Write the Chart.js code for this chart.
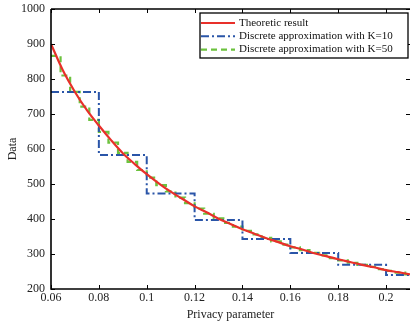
<!DOCTYPE html>
<html><head><meta charset="utf-8">
<script src="https://cdn.jsdelivr.net/npm/chart.js@4/dist/chart.umd.min.js"></script>
<style>html,body{margin:0;padding:0;background:#fff;}#wrap{width:410px;height:322px;position:relative;}</style>
</head><body><div id="wrap"><canvas id="c" width="410" height="322"></canvas></div>
<script>
// Theoretic curve
const theoX = [0.06,0.065,0.07,0.075,0.08,0.085,0.09,0.095,0.1,0.105,0.11,0.115,0.12,0.125,0.13,0.135,0.14,0.145,0.15,0.155,0.16,0.165,0.17,0.175,0.18,0.185,0.19,0.195,0.2,0.205,0.21];
const theoY = [900,824,763,711,667,626,588,557,528,502,478,457,436,419,401,386,371,358,345,334,322,313,302,294,285,277,269,262,254,248,242];
// K=10 step approximation: step start positions and values
const k10X = [0.06,0.08,0.1,0.12,0.14,0.16,0.18,0.2,0.22];
const k10Y = [763,583,473,397,343,303,269,240,240];
// K=50 step approximation
const k50X = [0.06,0.064,0.068,0.072,0.076,0.08,0.084,0.088,0.092,0.096,0.1,0.104,0.108,0.112,0.116,0.12,0.124,0.128,0.132,0.136,0.14,0.144,0.148,0.152,0.156,0.16,0.164,0.168,0.172,0.176,0.18,0.184,0.188,0.192,0.196,0.2,0.204,0.208,0.212];
const k50Y = [866,810,763,721,683,649,618,589,563,540,518,497,479,461,445,430,415,402,389,378,366,356,346,336,327,319,311,303,296,288,282,275,269,263,257,252,247,242,242];
const xTicks = [0.06,0.08,0.1,0.12,0.14,0.16,0.18,0.2];
const xTickLabels = ['0.06','0.08','0.1','0.12','0.14','0.16','0.18','0.2'];
const yTicks = [200,300,400,500,600,700,800,900,1000];
const yTickLabels = ['200','300','400','500','600','700','800','900','1000'];
const seriesNames = ['Theoretic result','Discrete approximation with K=10','Discrete approximation with K=50'];

const zip = (xs, ys) => xs.map((x,i)=>({x:x,y:ys[i]}));
const FONT = 'Liberation Serif';

const frame = {
  id:'frame',
  afterDatasetsDraw(chart){
    const {ctx, chartArea:a, scales:{x, y}} = chart;
    ctx.save();
    ctx.strokeStyle = '#000';
    ctx.lineWidth = 1;
    xTicks.forEach(v=>{
      const px = Math.round(x.getPixelForValue(v))+0.5;
      ctx.beginPath(); ctx.moveTo(px,a.bottom); ctx.lineTo(px,a.bottom-4);
      ctx.moveTo(px,a.top); ctx.lineTo(px,a.top+4); ctx.stroke();
    });
    yTicks.forEach(v=>{
      const py = Math.round(y.getPixelForValue(v))+0.5;
      ctx.beginPath(); ctx.moveTo(a.left,py); ctx.lineTo(a.left+4,py);
      ctx.moveTo(a.right,py); ctx.lineTo(a.right-4,py); ctx.stroke();
    });
    ctx.lineWidth = 1.6;
    ctx.beginPath();
    ctx.moveTo(a.left, a.top); ctx.lineTo(a.right, a.top);
    ctx.moveTo(a.left, a.top); ctx.lineTo(a.left, a.bottom); ctx.lineTo(a.right, a.bottom);
    ctx.stroke();
    // legend
    const lx = 200, ly = 13, lw = 208, lh = 45;
    ctx.fillStyle = '#fff';
    ctx.fillRect(lx, ly, lw, lh);
    ctx.lineWidth = 1.3;
    ctx.strokeRect(lx, ly, lw, lh);
    ctx.font = '11px "'+FONT+'"';
    ctx.textBaseline = 'middle';
    chart.data.datasets.forEach((ds,i)=>{
      const yy = ly + 10 + i*13.3;
      ctx.save();
      ctx.strokeStyle = ds.borderColor; ctx.lineWidth = ds.borderWidth;
      ctx.setLineDash(ds.borderDash || []);
      ctx.beginPath(); ctx.moveTo(lx+1, yy); ctx.lineTo(lx+35, yy); ctx.stroke();
      ctx.restore();
      ctx.fillStyle = '#111';
      ctx.fillText(ds.label, lx+39, yy);
    });
    ctx.restore();
  }
};

new Chart(document.getElementById('c'), {
  type:'line',
  data:{datasets:[
    {label:seriesNames[0], data:zip(theoX,theoY), borderColor:'#e8302a', borderWidth:2.2, pointRadius:0, tension:0.4, cubicInterpolationMode:'monotone'},
    {label:seriesNames[1], data:zip(k10X,k10Y), borderColor:'#2a55a8', borderWidth:2, borderDash:[8,3,2,3], pointRadius:0, stepped:'before'},
    {label:seriesNames[2], data:zip(k50X,k50Y), borderColor:'#6cc23e', borderWidth:2.2, borderDash:[6,4], pointRadius:0, stepped:'before'}
  ]},
  options:{
    responsive:false, animation:false, devicePixelRatio:1,
    layout:{padding:{top:9,right:0,left:0,bottom:0}},
    plugins:{legend:{display:false}, tooltip:{enabled:false}},
    scales:{
      x:{type:'linear', min:0.06, max:0.21,
        afterBuildTicks:s=>{s.ticks = xTicks.map(v=>({value:v}));},
        afterFit:s=>{s.height = 33; s.paddingLeft = 0; s.paddingRight = 0;},
        grid:{display:false, drawTicks:false},
        border:{display:false},
        ticks:{padding:2, maxRotation:0, autoSkip:false, color:'#222', font:{family:FONT,size:12},
          callback:(v)=>{const i = xTicks.findIndex(t=>Math.abs(t-v)<1e-9); return i>=0?xTickLabels[i]:'';}},
        title:{display:true, text:'Privacy parameter', color:'#222', font:{family:FONT,size:12}, padding:{top:0,bottom:0}}
      },
      y:{type:'linear', min:200, max:1000,
        afterBuildTicks:s=>{s.ticks = yTicks.map(v=>({value:v}));},
        afterFit:s=>{s.width = 51; s.paddingTop = 0; s.paddingBottom = 0;},
        grid:{display:false, drawTicks:false},
        border:{display:false},
        ticks:{padding:6, color:'#222', font:{family:FONT,size:12},
          callback:(v)=>{const i = yTicks.indexOf(v); return i>=0?yTickLabels[i]:'';}},
        title:{display:true, text:'Data', color:'#222', font:{family:FONT,size:12}, padding:{top:6,bottom:0}}
      }
    }
  },
  plugins:[frame]
});
</script></body></html>
